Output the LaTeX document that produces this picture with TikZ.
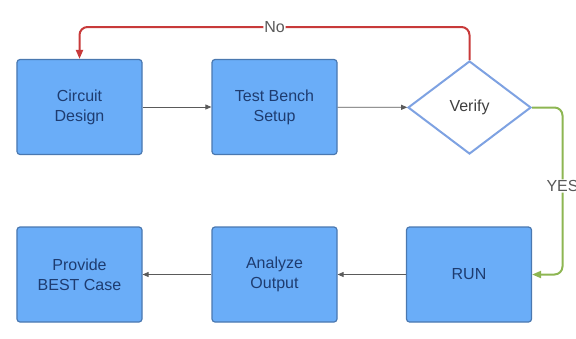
\documentclass[tikz,border=0pt]{standalone}
\usepackage{fontspec}
\setmainfont{Liberation Sans}
\usetikzlibrary{shapes.geometric,arrows.meta}
\definecolor{boxfill}{HTML}{6AADF8}
\definecolor{boxdraw}{HTML}{4A78B0}
\definecolor{boxtext}{HTML}{1E3C70}
\definecolor{diadraw}{HTML}{7EA2E2}
\definecolor{lnk}{HTML}{5A5A5A}
\definecolor{nored}{HTML}{C83A3A}
\definecolor{yesgreen}{HTML}{8DB652}
\begin{document}
\begin{tikzpicture}[x=1bp,y=-1bp,
  every node/.style={font=\fontsize{16bp}{20bp}\selectfont},
  procbox/.style={draw=boxdraw,line width=1.2bp,fill=boxfill,rounded corners=3bp,
    minimum width=125bp,minimum height=95bp,inner sep=0pt,align=center,text=boxtext},
  decbox/.style={draw=diadraw,line width=2bp,fill=white,diamond,aspect=1.32,
    minimum width=123bp,minimum height=93bp,inner sep=0pt,text=black!75},
  flow/.style={draw=lnk,line width=0.8bp,-{Triangle[length=6bp,width=5bp]}},
  lbl/.style={fill=white,inner sep=1bp,text=black!65}]
\useasboundingbox (0,0) rectangle (576,338);
\node[procbox] (cd) at (79.5,107) {Circuit\\Design};
\node[procbox] (tb) at (274.5,107) {Test Bench\\Setup};
\node[decbox] (ver) at (469.5,107.5) {Verify};
\node[procbox] (run) at (469,274.5) {RUN};
\node[procbox] (ao) at (274.5,274.5) {Analyze\\Output};
\node[procbox] (pb) at (79.5,274.5) {Provide\\BEST Case};
\coordinate (nr) at (469.5,27);
\coordinate (nl) at (79.5,27);
\coordinate (gt) at (562.5,107.5);
\coordinate (gb) at (562.5,274.5);
\draw[flow] (cd) -- (tb);
\draw[flow] (tb) -- (ver);
\draw[flow] (run) -- (ao);
\draw[flow] (ao) -- (pb);
\draw[draw=nored,line width=2bp,rounded corners=8bp,-{Triangle[length=9bp,width=7bp]}]
  (ver.north) -- (nr) -- node[lbl,pos=0.5] {No} (nl) -- (cd.north);
\draw[draw=yesgreen,line width=2bp,rounded corners=8bp,-{Triangle[length=9bp,width=7bp]}]
  (ver.east) -- (gt) -- node[lbl,pos=0.47] {YES} (gb) -- (run.east);
\end{tikzpicture}
\end{document}
